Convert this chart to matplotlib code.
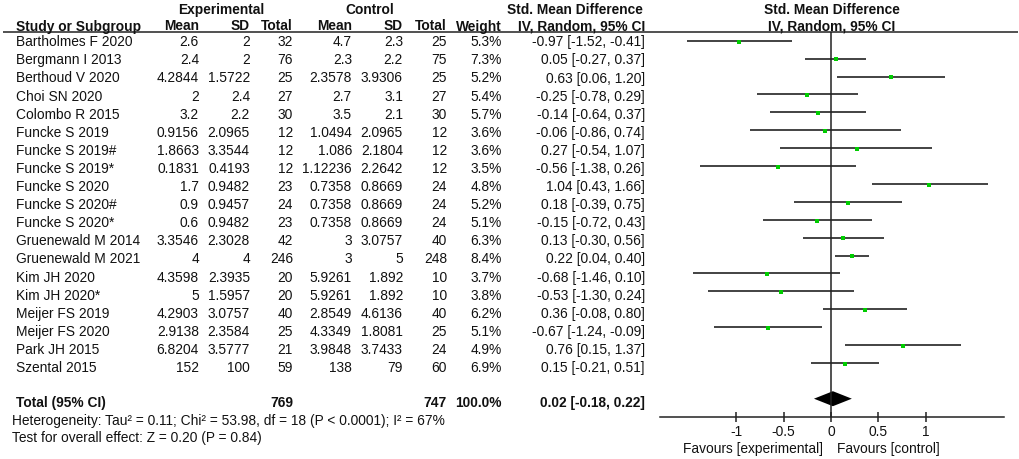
import matplotlib
matplotlib.use("Agg")
import matplotlib.pyplot as plt
import numpy as np

plt.rcParams['font.family'] = ['Liberation Sans', 'DejaVu Sans']

studies = ["Bartholmes F 2020", "Bergmann I 2013", "Berthoud V 2020", "Choi SN 2020",
           "Colombo R 2015", "Funcke S 2019", "Funcke S 2019#", "Funcke S 2019*",
           "Funcke S 2020", "Funcke S 2020#", "Funcke S 2020*", "Gruenewald M 2014",
           "Gruenewald M 2021", "Kim JH 2020", "Kim JH 2020*", "Meijer FS 2019",
           "Meijer FS 2020", "Park JH 2015", "Szental 2015"]
exp_mean = ["2.6", "2.4", "4.2844", "2", "3.2", "0.9156", "1.8663", "0.1831", "1.7", "0.9",
            "0.6", "3.3546", "4", "4.3598", "5", "4.2903", "2.9138", "6.8204", "152"]
exp_sd = ["2", "2", "1.5722", "2.4", "2.2", "2.0965", "3.3544", "0.4193", "0.9482", "0.9457",
          "0.9482", "2.3028", "4", "2.3935", "1.5957", "3.0757", "2.3584", "3.5777", "100"]
exp_n = [32, 76, 25, 27, 30, 12, 12, 12, 23, 24, 23, 42, 246, 20, 20, 40, 25, 21, 59]
ctl_mean = ["4.7", "2.3", "2.3578", "2.7", "3.5", "1.0494", "1.086", "1.12236", "0.7358", "0.7358",
            "0.7358", "3", "3", "5.9261", "5.9261", "2.8549", "4.3349", "3.9848", "138"]
ctl_sd = ["2.3", "2.2", "3.9306", "3.1", "2.1", "2.0965", "2.1804", "2.2642", "0.8669", "0.8669",
          "0.8669", "3.0757", "5", "1.892", "1.892", "4.6136", "1.8081", "3.7433", "79"]
ctl_n = [25, 75, 25, 27, 30, 12, 12, 12, 24, 24, 24, 40, 248, 10, 10, 40, 25, 24, 60]
weight = [5.3, 7.3, 5.2, 5.4, 5.7, 3.6, 3.6, 3.5, 4.8, 5.2, 5.1, 6.3, 8.4, 3.7, 3.8, 6.2, 5.1, 4.9, 6.9]
smd = [-0.97, 0.05, 0.63, -0.25, -0.14, -0.06, 0.27, -0.56, 1.04, 0.18, -0.15, 0.13, 0.22,
       -0.68, -0.53, 0.36, -0.67, 0.76, 0.15]
ci_lo = [-1.52, -0.27, 0.06, -0.78, -0.64, -0.86, -0.54, -1.38, 0.43, -0.39, -0.72, -0.30, 0.04,
         -1.46, -1.30, -0.08, -1.24, 0.15, -0.21]
ci_hi = [-0.41, 0.37, 1.20, 0.29, 0.37, 0.74, 1.07, 0.26, 1.66, 0.75, 0.43, 0.56, 0.40,
         0.10, 0.24, 0.80, -0.09, 1.37, 0.51]
total_exp = 769
total_ctl = 747
total_weight = 100.0
total_smd, total_lo, total_hi = 0.02, -0.18, 0.22
heterogeneity = "Heterogeneity: Tau\u00b2 = 0.11; Chi\u00b2 = 53.98, df = 18 (P < 0.0001); I\u00b2 = 67%"
overall = "Test for overall effect: Z = 0.20 (P = 0.84)"
xticks = [-1, -0.5, 0, 0.5, 1]
xticklabels = ["-1", "-0.5", "0", "0.5", "1"]

W, H = 1020, 460
fig = plt.figure(figsize=(W / 100, H / 100), dpi=100)
fs = 9.9
txtc = "#111111"

# table axes in pixel coordinates
ax_t = fig.add_axes([0, 0, 1, 1])
ax_t.set_xlim(0, W)
ax_t.set_ylim(H, 0)
ax_t.axis("off")

n = len(studies)
row_t = lambda i: 42.3 + 18.1 * i
row_f = lambda i: 41.7 + 17.9 * i

# headers
ax_t.text(221, 10, "Experimental", ha="center", va="center", fontsize=fs, fontweight="bold", color=txtc)
ax_t.text(370, 10, "Control", ha="center", va="center", fontsize=fs, fontweight="bold", color=txtc)
ax_t.text(643, 10, "Std. Mean Difference", ha="right", va="center", fontsize=fs, fontweight="bold", color=txtc)
ax_t.text(832, 10, "Std. Mean Difference", ha="center", va="center", fontsize=fs, fontweight="bold", color=txtc)
hy = 26.5
ax_t.text(16, hy, "Study or Subgroup", ha="left", va="center", fontsize=fs, fontweight="bold", color=txtc)
cols_x = [199, 250, 293, 352, 403, 447, 502, 645]
hdrs = ["Mean", "SD", "Total", "Mean", "SD", "Total", "Weight", "IV, Random, 95% CI"]
for x, h in zip(cols_x, hdrs):
    ax_t.text(x, hy, h, ha="right", va="center", fontsize=fs, fontweight="bold", color=txtc)
ax_t.text(832, hy, "IV, Random, 95% CI", ha="center", va="center", fontsize=fs, fontweight="bold", color=txtc)
ax_t.plot([3, 1018], [32.5, 32.5], color="#222222", lw=1.1, solid_capstyle="butt")

for i in range(n):
    y = row_t(i)
    ax_t.text(16, y, studies[i], ha="left", va="center", fontsize=fs, color=txtc)
    vals = [exp_mean[i], exp_sd[i], str(exp_n[i]), ctl_mean[i], ctl_sd[i], str(ctl_n[i]),
            f"{weight[i]:.1f}%", f"{smd[i]:.2f} [{ci_lo[i]:.2f}, {ci_hi[i]:.2f}]"]
    for x, v in zip(cols_x, vals):
        ax_t.text(x, y, v, ha="right", va="center", fontsize=fs, color=txtc)

yt = 403.3
ax_t.text(16, yt, "Total (95% CI)", ha="left", va="center", fontsize=fs, fontweight="bold", color=txtc)
ax_t.text(cols_x[2], yt, str(total_exp), ha="right", va="center", fontsize=fs, fontweight="bold", color=txtc)
ax_t.text(cols_x[5], yt, str(total_ctl), ha="right", va="center", fontsize=fs, fontweight="bold", color=txtc)
ax_t.text(cols_x[6], yt, f"{total_weight:.1f}%", ha="right", va="center", fontsize=fs, fontweight="bold", color=txtc)
ax_t.text(cols_x[7], yt, f"{total_smd:.2f} [{total_lo:.2f}, {total_hi:.2f}]", ha="right", va="center",
          fontsize=fs, fontweight="bold", color=txtc)
ax_t.text(12, 421, heterogeneity, ha="left", va="center", fontsize=fs, color=txtc)
ax_t.text(12, 438.5, overall, ha="left", va="center", fontsize=fs, color=txtc)
ax_t.text(823, 449, "Favours [experimental]", ha="right", va="center", fontsize=fs, color=txtc)
ax_t.text(837, 449, "Favours [control]", ha="left", va="center", fontsize=fs, color=txtc)

# forest axes
axis_y = 418
ax = fig.add_axes([660 / W, (H - axis_y) / H, 344 / W, axis_y / H])
ax.set_xlim(-1.806, 1.827)
ax.set_ylim(axis_y, 0)
ax.patch.set_alpha(0)
for s in ["top", "left", "right"]:
    ax.spines[s].set_visible(False)
ax.spines["bottom"].set_linewidth(1.1)
ax.spines["bottom"].set_color("#222222")
ax.set_yticks([])
ax.set_xticks(xticks)
ax.set_xticklabels(xticklabels, fontsize=fs, color=txtc)
ax.tick_params(axis="x", direction="inout", length=6.5, width=1.1, color="#222222", pad=1.5)

ax.vlines(0, 32.5, axis_y, color="#222222", lw=1.1)
for i in range(n):
    y = row_f(i)
    ax.plot([ci_lo[i], ci_hi[i]], [y, y], color="#222222", lw=1.2, solid_capstyle="butt")
    ax.plot(smd[i], y + 0.8, marker="s", ms=np.sqrt(weight[i]) * 0.9 + 0.8, color="#00cc00", mew=0)

yd = row_f(20)
hd = 7.5
ax.fill([total_lo, total_smd, total_hi, total_smd], [yd, yd - hd, yd, yd + hd], color="black", lw=0)

fig.savefig("out.png", dpi=100)
